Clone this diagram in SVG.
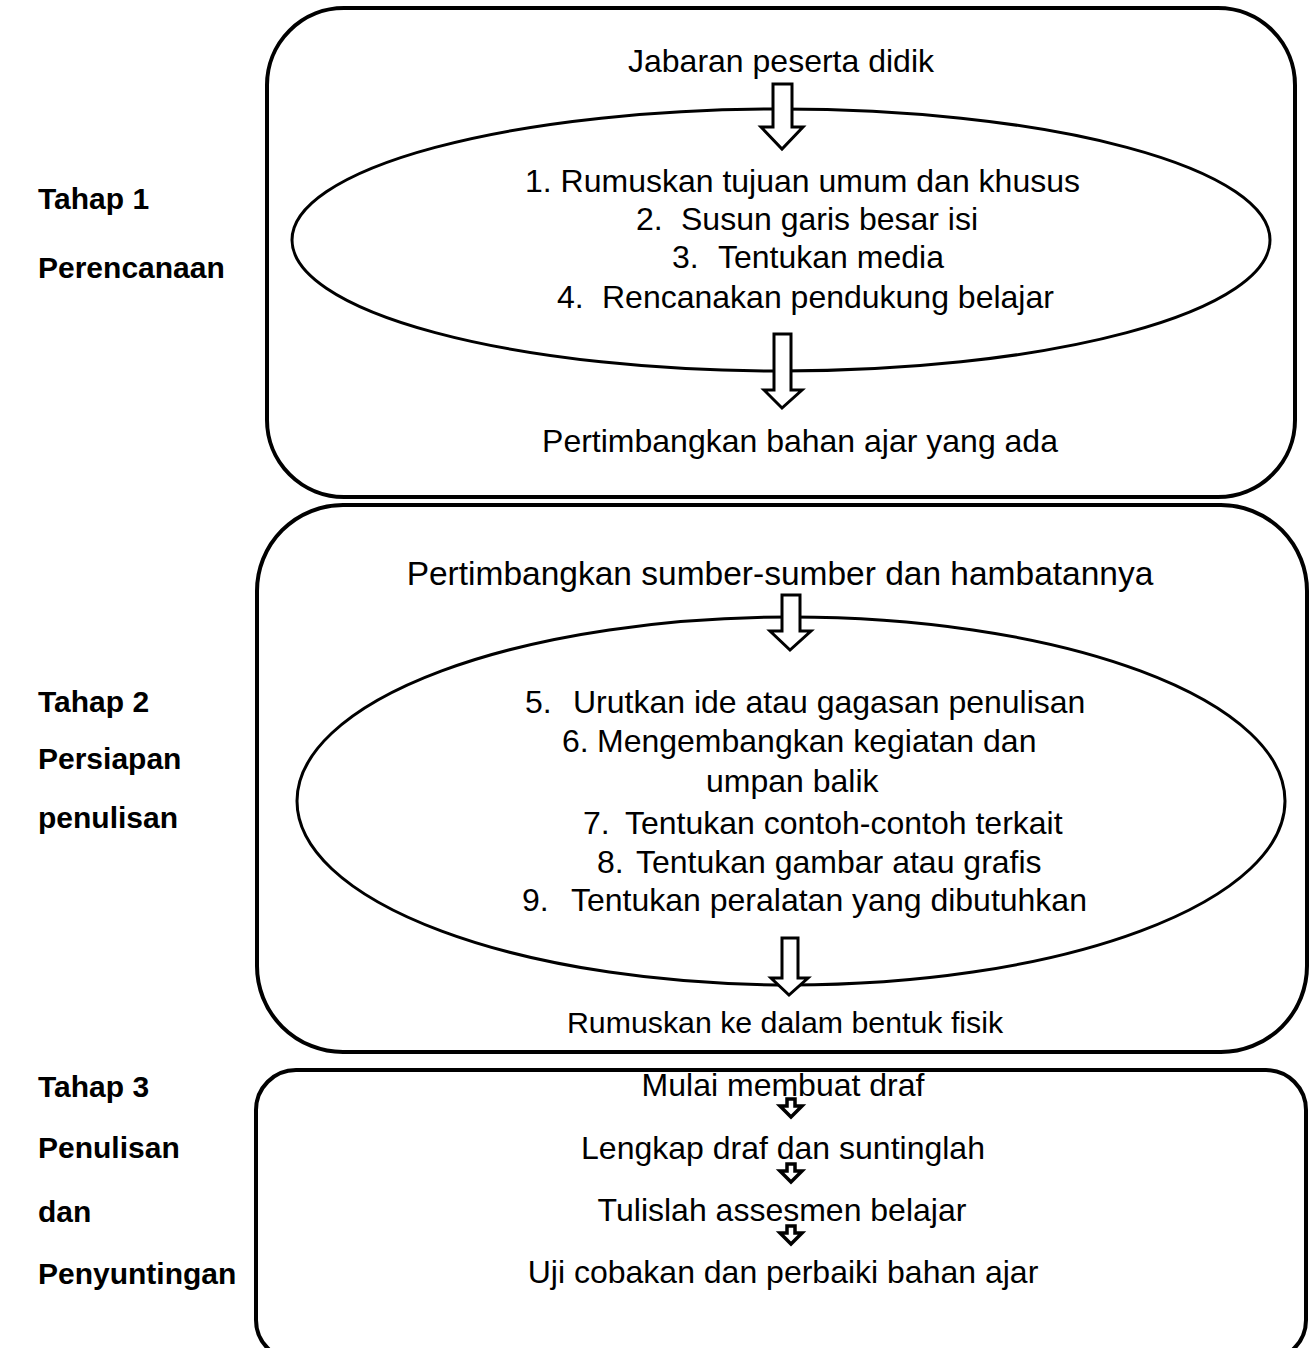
<svg xmlns="http://www.w3.org/2000/svg" width="1309" height="1348" viewBox="0 0 1309 1348">
<style>
  text { font-family: "Liberation Sans", Arial, sans-serif; font-size: 32px; fill: #000; }
  .c { text-anchor: middle; }
  .b { font-weight: bold; font-size: 30px; }
  .box { fill: none; stroke: #000; stroke-width: 4; }
  .ell { fill: none; stroke: #000; stroke-width: 3; }
  .arr { fill: #fff; stroke: #000; stroke-width: 3; stroke-linejoin: miter; }
  .sarr { fill: #fff; stroke: #000; stroke-width: 3.5; stroke-linejoin: miter; }
</style>
<rect width="1309" height="1348" fill="#fff"/>

<g id="labels">
  <text class="b" x="38" y="209">Tahap 1</text>
  <text class="b" x="38" y="278">Perencanaan</text>
  <text class="b" x="38" y="712">Tahap 2</text>
  <text class="b" x="38" y="769">Persiapan</text>
  <text class="b" x="38" y="828">penulisan</text>
  <text class="b" x="38" y="1097">Tahap 3</text>
  <text class="b" x="38" y="1158">Penulisan</text>
  <text class="b" x="38" y="1222">dan</text>
  <text class="b" x="38" y="1284">Penyuntingan</text>
</g>

<g id="stage1">
  <rect class="box" x="267" y="8" width="1028" height="489" rx="77" ry="77"/>
  <ellipse class="ell" cx="781" cy="240" rx="489" ry="131"/>
  <text class="c" x="781" y="72">Jabaran peserta didik</text>
  <text x="525" y="192">1. Rumuskan tujuan umum dan khusus</text>
  <text y="230"><tspan x="636">2.</tspan><tspan x="681">Susun garis besar isi</tspan></text>
  <text y="268"><tspan x="672">3.</tspan><tspan x="718">Tentukan media</tspan></text>
  <text y="308"><tspan x="557">4.</tspan><tspan x="602">Rencanakan pendukung belajar</tspan></text>
  <text class="c" x="800" y="452">Pertimbangkan bahan ajar yang ada</text>
</g>

<g id="stage2">
  <rect class="box" x="257" y="505" width="1050" height="547" rx="86" ry="86"/>
  <ellipse class="ell" cx="791" cy="801" rx="494" ry="184"/>
  <text class="c" x="780" y="585" style="font-size:33.5px">Pertimbangkan sumber-sumber dan hambatannya</text>
  <text y="713"><tspan x="525">5.</tspan><tspan x="573">Urutkan ide atau gagasan penulisan</tspan></text>
  <text y="752"><tspan x="562">6.</tspan><tspan x="597">Mengembangkan kegiatan dan</tspan></text>
  <text x="706" y="792">umpan balik</text>
  <text y="834"><tspan x="583">7.</tspan><tspan x="625">Tentukan contoh-contoh terkait</tspan></text>
  <text y="873"><tspan x="597">8.</tspan><tspan x="636">Tentukan gambar atau grafis</tspan></text>
  <text y="911"><tspan x="522">9.</tspan><tspan x="571">Tentukan peralatan yang dibutuhkan</tspan></text>
  <text class="c" x="785" y="1033" style="font-size:30.3px">Rumuskan ke dalam bentuk fisik</text>
</g>

<g id="stage3">
  <rect class="box" x="256" y="1070" width="1050" height="290" rx="40" ry="40"/>
  <text class="c" x="783" y="1096">Mulai membuat draf</text>
  <text class="c" x="783" y="1159">Lengkap draf dan suntinglah</text>
  <text class="c" x="782" y="1221">Tulislah assesmen belajar</text>
  <text class="c" x="783" y="1283">Uji cobakan dan perbaiki bahan ajar</text>
</g>

<g id="connectors">
  <path class="arr" d="M773,84 H792 V127 H803 L782,149 L761,127 H773 Z"/>
  <path class="arr" d="M774,334 H791 V390 H802 L782,408 L764,390 H774 Z"/>
  <path class="arr" d="M782,595 H800 V631 H811 L790,650 L770,631 H782 Z"/>
  <path class="arr" d="M782,938 H798 V978 H808 L789,995 L771,978 H782 Z"/>
  <path class="sarr" d="M787,1099 H795 V1106 H802 L791,1117 L780,1106 H787 Z"/>
  <path class="sarr" d="M787,1164 H795 V1171 H802 L791,1182 L780,1171 H787 Z"/>
  <path class="sarr" d="M787,1226 H795 V1233 H802 L791,1244 L780,1233 H787 Z"/>
</g>
</svg>
